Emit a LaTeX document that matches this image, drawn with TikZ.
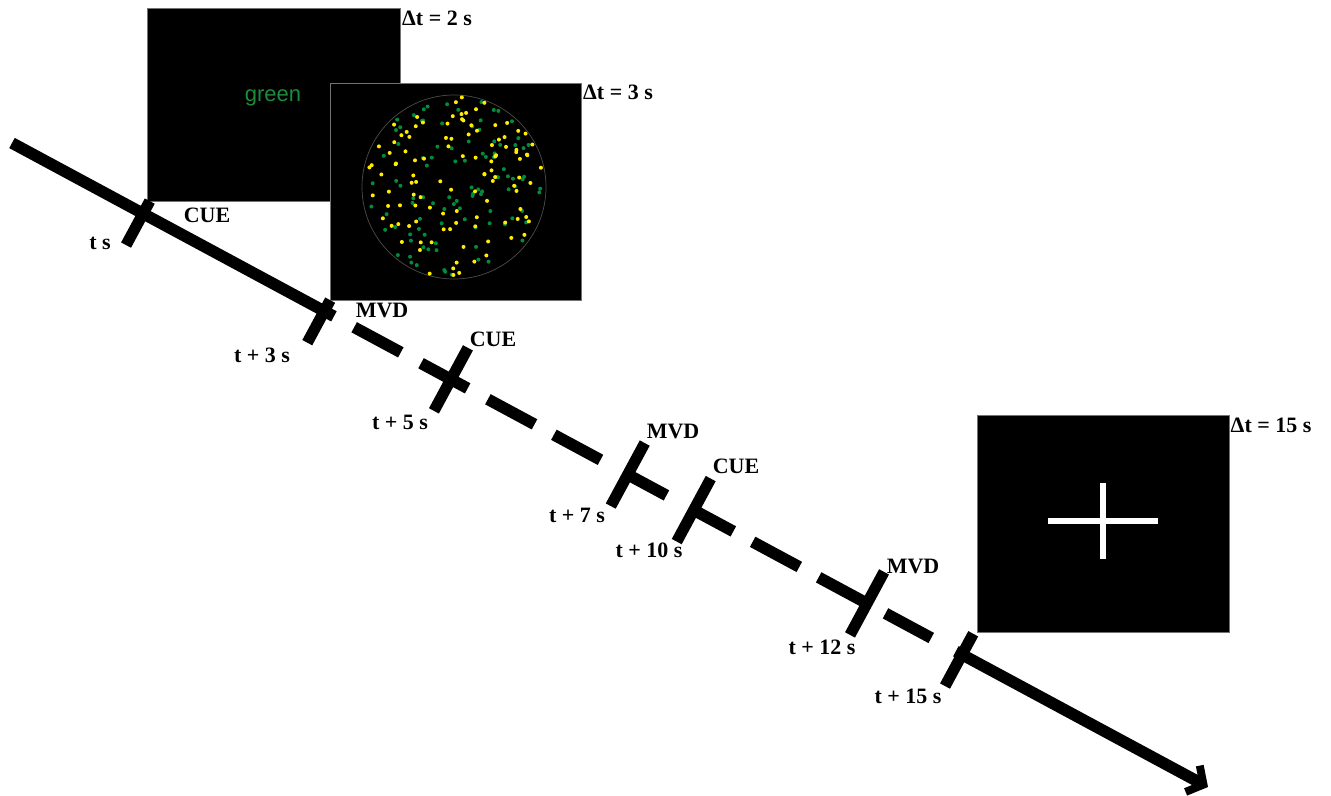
\documentclass[tikz,border=0pt]{standalone}
\usepackage{fontspec}
\setmainfont{Liberation Serif}
\newfontfamily\wordfont{Liberation Sans}
\usetikzlibrary{arrows.meta,calc}

\definecolor{dotyellow}{RGB}{255,236,0}
\definecolor{dotgreen}{RGB}{0,140,62}
\definecolor{wordgreen}{RGB}{28,140,58}

\tikzset{
    screen/.style={fill=black,draw=black!55,line width=0.5pt},
    axis/.style={line width=6.6pt},
    tickmark/.style={line width=6.4pt},
    evt/.style={font=\bfseries\fontsize{12.5}{14}\selectfont,inner sep=0pt},
}

\begin{document}
\begin{tikzpicture}[x=0.02cm,y=-0.02cm]
    \useasboundingbox (0,0) rectangle (1331,795);

    % Cue screen with the colour word
    \draw[screen] (147,8) rectangle (400,201);
    \node[text=wordgreen,font=\wordfont\fontsize{12.5}{14}\selectfont] (word) at (273,98) {green};
    \node[evt] (dur1) at (437,18) {Δt = 2 s};

    % Moving dots screen
    \draw[screen] (330,83) rectangle (581,300);
    \coordinate (dotc) at (454,187);
    \draw[black!70,line width=0.4pt] (dotc) circle[radius=92];
    \pgfmathsetseed{4711}
    \foreach \i in {1,...,100} {
        \pgfmathsetmacro{\ang}{360*rnd}
        \pgfmathsetmacro{\rad}{90*sqrt(rnd)}
        \fill[dotgreen] (dotc) ++(\ang:\rad) circle[radius=2];
    }
    \foreach \i in {1,...,110} {
        \pgfmathsetmacro{\ang}{360*rnd}
        \pgfmathsetmacro{\rad}{90*sqrt(rnd)}
        \fill[dotyellow] (dotc) ++(\ang:\rad) circle[radius=2];
    }
    \node[evt] (dur2) at (618,92) {Δt = 3 s};

    % Fixation screen
    \draw[screen] (977,415) rectangle (1229,632);
    \coordinate (fix) at (1103,521);
    \draw[white,line width=2.9pt] ($(fix)+(-55,0)$) -- ($(fix)+(55,0)$);
    \draw[white,line width=2.9pt] ($(fix)+(0,-38)$) -- ($(fix)+(0,38)$);
    \node[evt] (dur3) at (1271,425) {Δt = 15 s};

    % Time axis (1359.65 long): solid, dashed, then solid with arrow
    \coordinate (tl0) at (12,143);
    \coordinate (tl1) at (1208,787);
    \draw[axis] (tl0) -- ($(tl0)!{366/1359.65}!(tl1)$);
    \foreach \a/\b in {389/442, 465/518, 541/594, 616/669, 700/744,
                       775/820, 842/895, 917/972, 993/1045}
        \draw[axis] ($(tl0)!{\a/1359.65}!(tl1)$) -- ($(tl0)!{\b/1359.65}!(tl1)$);
    \draw[axis,-{Straight Barb[length=7pt,width=17pt,line width=4.5pt]}]
        ($(tl0)!{1073/1359.65}!(tl1)$) -- (tl1);

    % Event points on the axis
    \coordinate (ts)  at ($(tl0)!{149/1359.65}!(tl1)$);
    \coordinate (t3)  at ($(tl0)!{355/1359.65}!(tl1)$);
    \coordinate (t5)  at ($(tl0)!{499/1359.65}!(tl1)$);
    \coordinate (t7)  at ($(tl0)!{700/1359.65}!(tl1)$);
    \coordinate (t10) at ($(tl0)!{775/1359.65}!(tl1)$);
    \coordinate (t12) at ($(tl0)!{972/1359.65}!(tl1)$);
    \coordinate (t15) at ($(tl0)!{1080/1359.65}!(tl1)$);

    % Ticks (the ones under a screen run up to its corner)
    \draw[tickmark] ($(ts)+(-17,31.5)$) -- ($(ts)+(6.7,-12.5)$);
    \draw[tickmark] ($(t3)+(-17,31.5)$) -- ($(t3)+(5.9,-11)$);
    \draw[tickmark] ($(t5)+(-17,31.5)$) -- ($(t5)+(17,-31.5)$);
    \draw[tickmark] ($(t7)+(-17,31.5)$) -- ($(t7)+(17,-31.5)$);
    \draw[tickmark] ($(t10)+(-17,31.5)$) -- ($(t10)+(17,-31.5)$);
    \draw[tickmark] ($(t12)+(-17,31.5)$) -- ($(t12)+(17,-31.5)$);
    \draw[tickmark] ($(t15)+(-17,31.5)$) -- ($(t15)+(11.2,-20.8)$);

    % Time labels
    \node[evt] (lts)  at (100,243) {t s};
    \node[evt] (lt3)  at (262,355) {t + 3 s};
    \node[evt] (lt5)  at (400,422) {t + 5 s};
    \node[evt] (lt7)  at (577,515) {t + 7 s};
    \node[evt] (lt10) at (649,550) {t + 10 s};
    \node[evt] (lt12) at (822,647) {t + 12 s};
    \node[evt] (lt15) at (908,696) {t + 15 s};

    % Event labels
    \node[evt] (ets)  at (207,215) {CUE};
    \node[evt] (et3)  at (382,310) {MVD};
    \node[evt] (et5)  at (493,339) {CUE};
    \node[evt] (et7)  at (673,431) {MVD};
    \node[evt] (et10) at (736,466) {CUE};
    \node[evt] (et12) at (913,566) {MVD};
\end{tikzpicture}
\end{document}
